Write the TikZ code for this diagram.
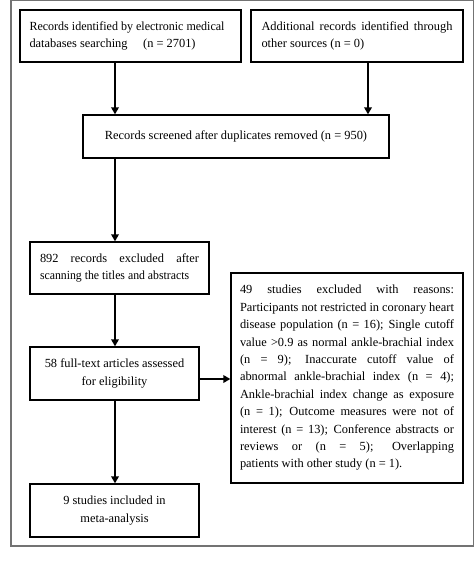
\documentclass[tikz,border=0pt]{standalone}
\usepackage{fontspec}
\setmainfont{Liberation Serif}
\usetikzlibrary{arrows.meta}
\newcommand{\jline}[2]{\makebox[#1][s]{#2}}
\newcommand{\lline}[2]{\makebox[#1][l]{#2}}
\begin{document}
\begin{tikzpicture}[x=1pt,y=-1pt,
  box/.style={draw=black,line width=1.3pt,inner sep=0pt,align=left,
    font=\fontsize{12.4}{17.4}\selectfont},
  arr/.style={line width=1.9pt,-{Triangle[length=7pt,width=7.5pt]}},
  frame/.style={draw=black!55,line width=1.4pt}]
\useasboundingbox (0,0) rectangle (474,561);
\draw[frame] (11,0.7) rectangle (473.3,546);
\node[box,minimum width=221pt,minimum height=52pt] (b1) at (130.5,36)
  {\lline{202pt}{\scalebox{0.97}[1]{Records identified by electronic medical}}\\
   \lline{202pt}{databases searching\quad\ (n = 2701)}};
\node[box,minimum width=212pt,minimum height=52pt] (b2) at (357,36)
  {\jline{191pt}{Additional records identified through}\\
   \lline{191pt}{other sources (n = 0)}};
\node[box,minimum width=306pt,minimum height=43pt] (b3) at (236,136.5)
  {Records screened after duplicates removed (n = 950)};
\node[box,minimum width=179pt,minimum height=52pt] (b4) at (119.5,268)
  {\jline{159pt}{892 records excluded after}\\
   \lline{159pt}{\scalebox{0.95}[1]{scanning the titles and abstracts}}};
\node[box,minimum width=169pt,minimum height=53pt,align=center] (b5) at (114.5,373.5)
  {58 full-text articles assessed\\for eligibility};
\node[box,minimum width=232pt,minimum height=210pt] (b6) at (347,378)
  {\jline{214pt}{49 studies excluded with reasons:}\\
   \jline{214pt}{Participants not restricted in coronary heart}\\
   \jline{214pt}{disease population (n = 16); Single cutoff}\\
   \jline{214pt}{value >0.9 as normal ankle-brachial index}\\
   \jline{214pt}{(n = 9); Inaccurate cutoff value of}\\
   \jline{214pt}{abnormal ankle-brachial index (n = 4);}\\
   \jline{214pt}{Ankle-brachial index change as exposure}\\
   \jline{214pt}{(n = 1); Outcome measures were not of}\\
   \jline{214pt}{interest (n = 13); Conference abstracts or}\\
   \jline{214pt}{reviews or (n = 5); Overlapping}\\
   \lline{214pt}{patients with other study (n = 1).}};
\node[box,minimum width=169pt,minimum height=53pt,align=center] (b7) at (114.5,510.5)
  {9 studies included in\\meta-analysis};
\coordinate (ls) at (115,0);
\coordinate (rs) at (368,0);
\coordinate (my) at (0,379);
\draw[arr] (b1.south -| ls) -- (b3.north -| ls);
\draw[arr] (b2.south -| rs) -- (b3.north -| rs);
\draw[arr] (b3.south -| ls) -- (b4.north -| ls);
\draw[arr] (b4.south -| ls) -- (b5.north -| ls);
\draw[arr] (b5.south -| ls) -- (b7.north -| ls);
\draw[arr] (b5.east |- my) -- (b6.west |- my);
\end{tikzpicture}
\end{document}
